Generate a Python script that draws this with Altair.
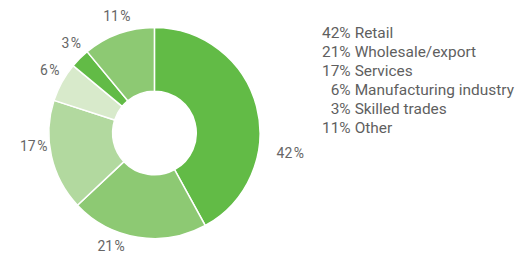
import altair as alt
import pandas as pd

categories = ["Retail", "Wholesale/export", "Services", "Manufacturing industry", "Skilled trades", "Other"]
values = [42, 21, 17, 6, 3, 11]
colors = ["#62bb46", "#8dc973", "#b2d99f", "#d8eacb", "#62bb46", "#8dc973"]

df = pd.DataFrame({
    "cat": categories,
    "value": values,
    "idx": list(range(len(categories))),
})
df["pct"] = [f"{v}\u200a%" for v in values]
df["pct_leg"] = [f"{v}%" for v in values]

# label angle nudges (display tweak, not data)
nudge = {"Retail": 6.5, "Wholesale/export": 3.3, "Services": 1.7}
nudge_expr = " : ".join([f"datum.cat == '{k}' ? {v}" for k, v in nudge.items()]) + " : 0.5"

CX, CY = 147, 125
theta_scale = alt.Scale(domain=[0, 100])

base = alt.Chart(df)

arcs = base.mark_arc(innerRadius=42, outerRadius=106, stroke="white", strokeWidth=1.5).encode(
    theta=alt.Theta("value:Q", stack=True, scale=theta_scale),
    color=alt.Color("cat:N", scale=alt.Scale(domain=categories, range=colors), legend=None),
    order=alt.Order("idx:Q"),
    x=alt.value(CX),
    y=alt.value(CY),
)

lab_base = base.transform_window(
    cum="sum(value)", sort=[alt.SortField("idx")]
).transform_calculate(
    mid="datum.cum - datum.value / 2 + (" + nudge_expr + ")"
)


def label_layer(filt, r):
    return lab_base.transform_filter(filt).mark_text(
        fontSize=14, font="Roboto", color="#666666", align="center", baseline="middle", radius=r
    ).encode(
        theta=alt.Theta("mid:Q", stack=None, scale=theta_scale),
        text="pct:N",
        x=alt.value(CX),
        y=alt.value(CY),
    )


labels_main = label_layer("datum.cat == 'Retail'", 138)
labels_rest = label_layer("datum.cat != 'Retail'", 122)

yscale = alt.Scale(type="point", range=[25, 120], padding=0)

leg_pct = base.mark_text(
    fontSize=15.5, font="Roboto", color="#5f5f5f", align="right", baseline="middle"
).encode(
    x=alt.value(344),
    y=alt.Y("idx:O", scale=yscale, axis=None),
    text="pct_leg:N",
)

leg_name = base.mark_text(
    fontSize=15.5, font="Roboto", color="#5f5f5f", align="left", baseline="middle"
).encode(
    x=alt.value(348),
    y=alt.Y("idx:O", scale=yscale, axis=None),
    text="cat:N",
)

chart = alt.layer(arcs, labels_main, labels_rest, leg_pct, leg_name).properties(
    width=507, height=241, padding=0
).configure_view(stroke=None)

chart.save("out.html", embed_options={"renderer": "svg", "actions": False})
